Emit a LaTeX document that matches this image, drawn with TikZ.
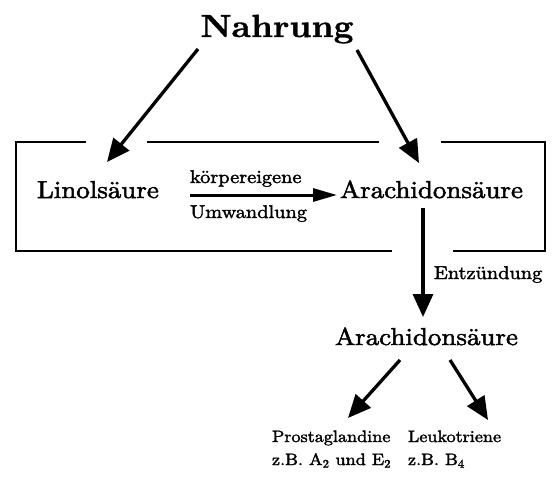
\documentclass[tikz,border=0pt]{standalone}
\usepackage{fontspec}
\setmainfont{lmroman10}[Extension=.otf, UprightFont=*-regular, BoldFont=*-bold, ItalicFont=*-italic, FakeStretch=1.1, FakeBold=2]
\newfontfamily\headfont{lmroman10}[Extension=.otf, UprightFont=*-bold, FakeStretch=1.08, FakeBold=1]
\usetikzlibrary{arrows.meta}
\begin{document}
\begin{tikzpicture}[x=1pt,y=1pt,
  every node/.style={inner sep=0pt, outer sep=0pt, text=black},
  head/.style={anchor=base, font=\headfont\fontsize{32}{36}\selectfont},
  big/.style={anchor=base west, font=\fontsize{24.5}{28}\selectfont},
  lab/.style={anchor=base west, font=\fontsize{18.5}{21}\selectfont},
  small/.style={anchor=base west, font=\fontsize{16.5}{19}\selectfont},
  arr/.style={line width=3.3pt, -{Triangle[length=23pt,width=20pt]}},
  harr/.style={line width=3pt, -{Triangle[length=24pt,width=13pt]}},
  frame/.style={line width=1.2pt, black}
]
\fill[white] (0,0) rectangle (557,-477);
\useasboundingbox (0,0) rectangle (557,-477);

% frame with gaps
\draw[frame] (86,-142) -- (16,-142) -- (16,-251) -- (392,-251);
\draw[frame] (147,-142) -- (379,-142);
\draw[frame] (441,-142) -- (545,-142) -- (545,-251) -- (453,-251);

% nodes
\node[head] (nahrung) at (277,-37) {Nahrung};
\node[big] (lino) at (37,-198) {Linolsäure};
\node[big] (arach1) at (340,-198) {Arachidonsäure};
\node[lab] (koerp) at (190,-183) {körpereigene};
\node[lab] (umw) at (190,-218) {Umwandlung};
\node[lab] (entz) at (434,-279) {Entzündung};
\node[big] (arach2) at (335,-345) {Arachidonsäure};
\node[small] (prost) at (272,-442) {Prostaglandine};
\node[small] (zb1) at (272,-465) {z.B. A\textsubscript{2} und E\textsubscript{2}};
\node[small] (leuko) at (408,-442) {Leukotriene};
\node[small] (zb2) at (408,-465) {z.B. B\textsubscript{4}};

% connectors
\draw[arr] ([shift={(-79,-12)}]nahrung.base) -- ([shift={(70,36)}]lino.base west);
\draw[arr] ([shift={(80,-13)}]nahrung.base) -- ([shift={(79,35)}]arach1.base west);
\draw[harr] ([shift={(153,3)}]lino.base west) -- ([shift={(-3,3)}]arach1.base west);
\draw[arr] ([shift={(83,-10)}]arach1.base west) -- ([shift={(88,28)}]arach2.base west);
\draw[arr] ([shift={(65,-15)}]arach2.base west) -- ([shift={(76,24)}]prost.base west);
\draw[arr] ([shift={(115,-15)}]arach2.base west) -- ([shift={(80,22)}]leuko.base west);
\end{tikzpicture}
\end{document}
